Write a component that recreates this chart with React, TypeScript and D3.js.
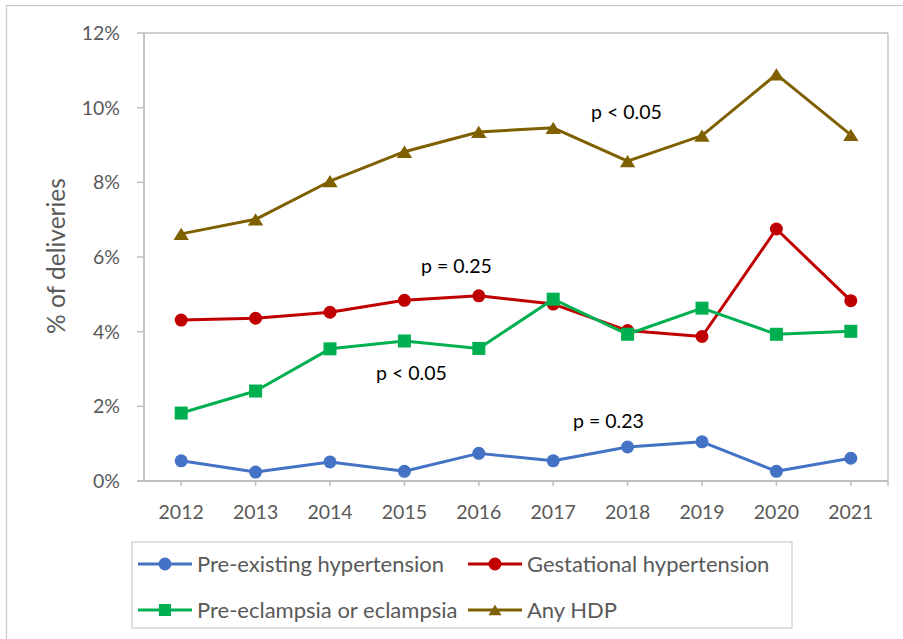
import React from "react";
import * as d3 from "d3";

const years = ["2012","2013","2014","2015","2016","2017","2018","2019","2020","2021"];
const preExisting = [0.54,0.24,0.51,0.26,0.74,0.54,0.91,1.05,0.26,0.61];
const gestational = [4.31,4.36,4.52,4.84,4.96,4.74,4.03,3.87,6.75,4.83];
const preEclampsia = [1.82,2.41,3.54,3.75,3.55,4.87,3.93,4.63,3.93,4.01];
const anyHDP = [6.62,7.01,8.03,8.82,9.35,9.46,8.57,9.25,10.89,9.27];
const yTicks = [0,2,4,6,8,10,12];

const seriesList = [
  { name: "Pre-existing hypertension", values: preExisting, color: "#4472c4", marker: "circle" },
  { name: "Gestational hypertension", values: gestational, color: "#c00000", marker: "circle" },
  { name: "Pre-eclampsia or eclampsia", values: preEclampsia, color: "#00b050", marker: "square" },
  { name: "Any HDP", values: anyHDP, color: "#7f6000", marker: "triangle" },
];

const annotations = [
  { text: "p < 0.05", x: 591, y: 119 },
  { text: "p = 0.25", x: 421, y: 273 },
  { text: "p < 0.05", x: 376, y: 380 },
  { text: "p = 0.23", x: 573, y: 428 },
];

const FONT = "Lato, 'Open Sans', sans-serif";
const TEXT = "#595959";
const AXIS = "#bfbfbf";

function Marker({ type, x, y, color, size }: { type: string; x: number; y: number; color: string; size: number }) {
  if (type === "circle") return <circle cx={x} cy={y} r={size / 2} fill={color} />;
  if (type === "square") return <rect x={x - size / 2} y={y - size / 2} width={size} height={size} fill={color} />;
  const h = size * 0.88;
  const w = size * 1.1;
  return <path d={`M${x},${y - h / 2}L${x + w / 2},${y + h / 2}L${x - w / 2},${y + h / 2}Z`} fill={color} />;
}

export default function App() {
  const left = 144, right = 888, top = 33, bottom = 481;
  const x = d3.scalePoint<string>().domain(years).range([left, right]).padding(0.5);
  const y = d3.scaleLinear().domain([0, 12]).range([bottom, top]);
  const line = d3.line<number>().x((_, i) => x(years[i]) as number).y((d) => y(d));

  const legendItems = [
    { s: seriesList[0], lx: 138, ly: 564 },
    { s: seriesList[1], lx: 468, ly: 564 },
    { s: seriesList[2], lx: 138, ly: 610 },
    { s: seriesList[3], lx: 468, ly: 610 },
  ];

  return (
    <svg width={903} height={639} style={{ position: "absolute", left: 0, top: 0, background: "#fff" }} fontFamily={FONT}>
      <rect x={6.5} y={5.5} width={905} height={640} fill="#fff" stroke="#c8c8c8" strokeWidth={1.2} />
      {/* plot frame */}
      <line x1={left} y1={top} x2={right} y2={top} stroke={AXIS} strokeWidth={1.3} />
      <line x1={right} y1={top} x2={right} y2={bottom} stroke={AXIS} strokeWidth={1.3} />
      <line x1={left} y1={top} x2={left} y2={bottom} stroke={AXIS} strokeWidth={1.8} />
      <line x1={left - 7} y1={bottom} x2={right} y2={bottom} stroke={AXIS} strokeWidth={1.8} />
      {yTicks.map((t) => (
        <g key={t}>
          <line x1={left - 7} x2={left} y1={y(t)} y2={y(t)} stroke={AXIS} strokeWidth={1.5} />
          <text x={120} y={y(t) + 7} textAnchor="end" fontSize={19.5} fill={TEXT}>{t}%</text>
        </g>
      ))}
      {years.map((yr) => (
        <g key={yr}>
          <line x1={x(yr)} x2={x(yr)} y1={bottom} y2={bottom + 5} stroke={AXIS} strokeWidth={1.5} />
          <text x={x(yr)} y={519} textAnchor="middle" fontSize={19.5} fill={TEXT}>{yr}</text>
        </g>
      ))}
      <line x1={right} x2={right} y1={bottom} y2={bottom + 5} stroke={AXIS} strokeWidth={1.5} />
      <text transform={`translate(65,256) rotate(-90)`} textAnchor="middle" fontSize={24.5} fill={TEXT}>% of deliveries</text>

      {seriesList.map((s) => (
        <g key={s.name}>
          <path d={line(s.values) || ""} fill="none" stroke={s.color} strokeWidth={3} strokeLinejoin="round" />
          {s.values.map((v, i) => (
            <Marker key={i} type={s.marker} x={x(years[i]) as number} y={y(v)} color={s.color} size={s.marker === "square" ? 13 : s.marker === "triangle" ? 14 : 13} />
          ))}
        </g>
      ))}

      {annotations.map((a, i) => (
        <text key={i} x={a.x} y={a.y} fontSize={19.5} fill="#000">{a.text}</text>
      ))}

      <rect x={132} y={542} width={660} height={86} fill="#fff" stroke="#d0d0d0" strokeWidth={1.3} />
      {legendItems.map(({ s, lx, ly }) => (
        <g key={s.name}>
          <line x1={lx} x2={lx + 54} y1={ly} y2={ly} stroke={s.color} strokeWidth={3} />
          <Marker type={s.marker} x={lx + 27} y={ly} color={s.color} size={s.marker === "circle" ? 13 : 12} />
          <text x={lx + 59} y={ly + 8} fontSize={22} fill={TEXT}>{s.name}</text>
        </g>
      ))}
    </svg>
  );
}
